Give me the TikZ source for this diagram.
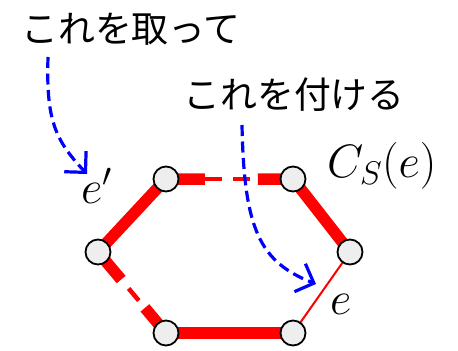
\documentclass[tikz,border=0pt]{standalone}
\usepackage{fix-cm}
\usepackage{fontspec}
\newfontfamily\jp{Noto Sans CJK JP}
\usetikzlibrary{arrows.meta,calc,backgrounds}
\definecolor{nodefill}{RGB}{238,238,238}
\tikzset{
  vtx/.style={circle,draw=black,line width=1.8bp,fill=nodefill,minimum size=25bp,inner sep=0pt},
  thickedge/.style={red,line width=11.5bp},
  thinedge/.style={red,line width=3.3bp},
  lightedge/.style={red,line width=2bp},
  jptext/.style={inner sep=0pt,font=\jp\fontsize{37}{37}\selectfont},
  mathlbl/.style={inner sep=0pt,anchor=base west,font=\fontsize{47}{47}\selectfont},
  bluearrow/.style={blue,line width=3.2bp,dash pattern=on 11bp off 5.5bp,
    -{Straight Barb[length=15bp,width=30bp,line width=3.2bp]}}
}
\begin{document}
\begin{tikzpicture}[x=1bp,y=-1bp]
\useasboundingbox (0,0) rectangle (458,350);
% vertices
\node[vtx] (tl) at (166,179) {};
\node[vtx] (tr) at (293,179) {};
\node[vtx] (r)  at (350,252) {};
\node[vtx] (br) at (293,333) {};
\node[vtx] (bl) at (166,333) {};
\node[vtx] (l)  at (98,252) {};
% edges
\begin{scope}[on background layer]
  \draw[thickedge] (tl.center) -- (l.center);
  \draw[thickedge] (tr.center) -- (r.center);
  \draw[thickedge] (bl.center) -- (br.center);
  \draw[lightedge] (r.center) -- (br.center);
  % top edge (partly removed)
  \draw[thickedge] (tl.center) -- ($(tl.center)!0.307!(tr.center)$);
  \draw[thinedge] ($(tl.center)!0.307!(tr.center)$) -- ($(tl.center)!0.441!(tr.center)$);
  \draw[thinedge] ($(tl.center)!0.528!(tr.center)$) -- ($(tl.center)!0.661!(tr.center)$);
  \draw[thickedge] ($(tl.center)!0.724!(tr.center)$) -- (tr.center);
  % lower-left edge (partly removed)
  \draw[thickedge] (l.center) -- ($(l.center)!0.34!(bl.center)$);
  \draw[red,line width=4.5bp] ($(l.center)!0.45!(bl.center)$) -- ($(l.center)!0.60!(bl.center)$);
  \draw[thickedge] ($(l.center)!0.69!(bl.center)$) -- (bl.center);
\end{scope}
% texts
\node[jptext] (t1) at (131,29) {これを取って};
\node[jptext] (t2) at (294,95) {これを付ける};
\node[mathlbl] (ep) at (81,203) {$e'$};
\node[mathlbl] (cs) at (327,177) {$C_S(e)$};
\node[mathlbl] (ee) at (330,314) {$e$};
% arrows
\coordinate (a1s) at (48,57);
\coordinate (a1e) at (87,174);
\coordinate (a2s) at (242,125);
\coordinate (a2e) at (316,284);
\draw[bluearrow] (a1s) .. controls (46,120) and (55,140) .. (a1e);
\draw[bluearrow] (a2s) .. controls (244,230) and (260,262) .. (a2e);
\end{tikzpicture}
\end{document}
